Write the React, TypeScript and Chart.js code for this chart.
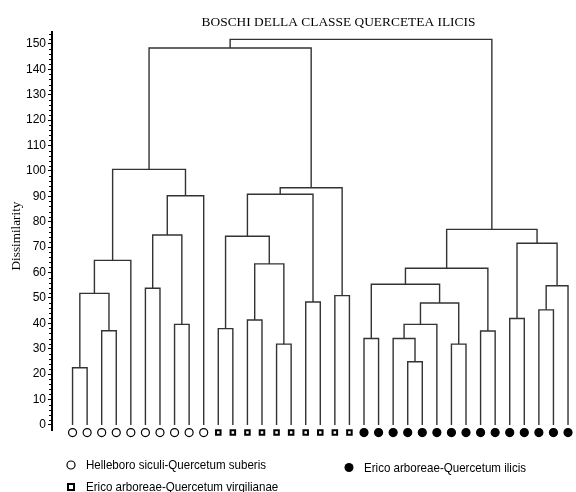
import React, { useEffect, useRef } from "react";
import { Chart, registerables } from "chart.js";

Chart.register(...registerables);

// Leaf groups in dendrogram order: 0 = Helleboro, 1 = Erico/virgilianae, 2 = Erico/ilicis
const leafGroups: number[] = [
  0, 0, 0, 0, 0, 0, 0, 0, 0, 0,
  1, 1, 1, 1, 1, 1, 1, 1, 1, 1,
  2, 2, 2, 2, 2, 2, 2, 2, 2, 2, 2, 2, 2, 2, 2,
];

// Agglomeration steps: left child id, right child id (leaves are 0..34, new nodes from 35), dissimilarity
const mergeLeft: number[] = [0, 2, 35, 37, 5, 7, 39, 41, 38, 10, 12, 14, 45, 44, 16, 48, 18, 50, 43, 23, 22, 55, 26, 56, 20, 59, 28, 60, 30, 32, 64, 63, 62, 53];
const mergeRight: number[] = [1, 3, 36, 4, 6, 8, 40, 9, 42, 11, 13, 15, 46, 47, 17, 49, 19, 51, 52, 24, 54, 25, 27, 57, 21, 58, 29, 61, 31, 33, 34, 65, 66, 67];
const mergeHeight: number[] = [22.5, 37.1, 51.8, 64.8, 53.8, 39.6, 74.8, 90.2, 100.6, 37.9, 41.3, 31.8, 63.4, 74.3, 48.4, 90.8, 50.9, 93.4, 148.4, 24.9, 34.0, 39.6, 31.8, 48.0, 34.0, 55.4, 37.0, 61.7, 41.9, 45.3, 54.8, 71.5, 77.0, 151.8];

const groupNames: string[] = [
  "Helleboro siculi-Quercetum suberis",
  "Erico arboreae-Quercetum virgilianae",
  "Erico arboreae-Quercetum ilicis",
];

const chartTitle = "BOSCHI DELLA CLASSE QUERCETEA ILICIS";
const yAxisTitle = "Dissimilarity";

const Y_MIN = -2;
const Y_MAX = 154.7;
const MARKER_Y = -3; // leaf symbols sit just below the zero line
const LINE_COLOR = "#333";
const TEXT_FONT = "'Liberation Sans Narrow', 'Liberation Sans', Arial, sans-serif";
const SERIF_FONT = "'Liberation Serif', 'Times New Roman', serif";

function buildLinks() {
  const n = leafGroups.length;
  const xs: number[] = leafGroups.map((_, i) => i);
  const hs: number[] = leafGroups.map(() => 0);
  const links: { x: number; y: number }[][] = [];
  for (let k = 0; k < mergeHeight.length; k++) {
    const a = mergeLeft[k];
    const b = mergeRight[k];
    const h = mergeHeight[k];
    links.push([
      { x: xs[a], y: hs[a] },
      { x: xs[a], y: h },
      { x: xs[b], y: h },
      { x: xs[b], y: hs[b] },
    ]);
    xs[n + k] = (xs[a] + xs[b]) / 2;
    hs[n + k] = h;
  }
  return links;
}

function drawMarker(ctx: CanvasRenderingContext2D, group: number, x: number, y: number) {
  ctx.save();
  ctx.strokeStyle = "#000";
  ctx.fillStyle = "#000";
  if (group === 0) {
    ctx.lineWidth = 1.2;
    ctx.beginPath();
    ctx.arc(x, y, 4, 0, Math.PI * 2);
    ctx.stroke();
  } else if (group === 1) {
    ctx.lineWidth = 2;
    ctx.strokeRect(x - 3, y - 3, 6, 6);
  } else {
    ctx.beginPath();
    ctx.arc(x, y, 4.5, 0, Math.PI * 2);
    ctx.fill();
  }
  ctx.restore();
}

const decorPlugin = {
  id: "decor",
  afterDraw(chart: any) {
    const ctx: CanvasRenderingContext2D = chart.ctx;
    const yScale = chart.scales.y;
    ctx.save();
    // minor ticks every 2 units
    ctx.strokeStyle = "#000";
    ctx.lineWidth = 1;
    for (let v = 2; v <= 154; v += 2) {
      if (v % 10 === 0) continue;
      const py = Math.round(yScale.getPixelForValue(v)) + 0.5;
      ctx.beginPath();
      ctx.moveTo(yScale.right - 3, py);
      ctx.lineTo(yScale.right - 1, py);
      ctx.stroke();
    }
    // title
    ctx.fillStyle = "#000";
    ctx.font = `13.4px ${SERIF_FONT}`;
    ctx.textAlign = "center";
    ctx.textBaseline = "middle";
    ctx.fillText(chartTitle, 338.5, 22);
    // vertical axis title
    ctx.save();
    ctx.translate(16.5, 236);
    ctx.rotate(-Math.PI / 2);
    ctx.font = `13.2px ${SERIF_FONT}`;
    ctx.fillText(yAxisTitle, 0, 0);
    ctx.restore();
    // legend
    const items = [
      { g: 0, x: 71, y: 465 },
      { g: 1, x: 71, y: 487 },
      { g: 2, x: 349, y: 467.5 },
    ];
    ctx.textAlign = "left";
    for (const it of items) {
      drawMarker(ctx, it.g, it.x, it.y);
      ctx.save();
      ctx.translate(it.x + 15, it.y + 0.5);
      ctx.scale(0.89, 1);
      ctx.font = `13px ${TEXT_FONT}`;
      ctx.fillStyle = "#000";
      ctx.fillText(groupNames[it.g], 0, 0);
      ctx.restore();
    }
    ctx.restore();
  },
};

export default function App() {
  const canvasRef = useRef<HTMLCanvasElement | null>(null);

  useEffect(() => {
    if (!canvasRef.current) return;
    const links = buildLinks();
    const linkSets = links.map((pts) => ({
      type: "line" as const,
      data: pts,
      showLine: true,
      borderColor: LINE_COLOR,
      borderWidth: 1.4,
      pointRadius: 0,
      tension: 0,
      fill: false,
    }));
    const markerSets = groupNames.map((_, g) => ({
      type: "scatter" as const,
      data: leafGroups
        .map((grp, i) => ({ grp, i }))
        .filter((d) => d.grp === g)
        .map((d) => ({ x: d.i, y: MARKER_Y })),
      pointStyle: g === 1 ? "rect" : "circle",
      pointRadius: g === 1 ? 3.2 : 4,
      borderWidth: g === 1 ? 2 : 1.2,
      borderColor: "#000",
      backgroundColor: g === 2 ? "#000" : "#fff",
      clip: false as any,
    }));

    const chart = new Chart(canvasRef.current, {
      type: "scatter",
      data: { datasets: [...linkSets, ...markerSets] as any },
      options: {
        animation: false,
        responsive: false,
        layout: { padding: { left: 0, top: 32, right: 2, bottom: 62 } },
        plugins: { legend: { display: false }, tooltip: { enabled: false } },
        scales: {
          x: {
            type: "linear",
            display: false,
            min: -1.41,
            max: 34.136,
          },
          y: {
            type: "linear",
            min: Y_MIN,
            max: Y_MAX,
            afterFit: (s: any) => {
              s.width = 52;
            },
            border: { display: true, color: "#000", width: 2 },
            grid: {
              display: true,
              drawOnChartArea: false,
              drawTicks: true,
              tickLength: 4,
              tickColor: "#000",
              tickWidth: 1,
            },
            ticks: {
              stepSize: 10,
              includeBounds: false,
              padding: 2,
              color: "#000",
              font: { family: TEXT_FONT, size: 12 },
            },
          },
        },
      },
      plugins: [decorPlugin],
    });
    return () => chart.destroy();
  }, []);

  return (
    <div style={{ position: "fixed", left: 0, top: 0, width: 576, height: 492, background: "#fff" }}>
      <canvas ref={canvasRef} width={576} height={492} />
    </div>
  );
}
